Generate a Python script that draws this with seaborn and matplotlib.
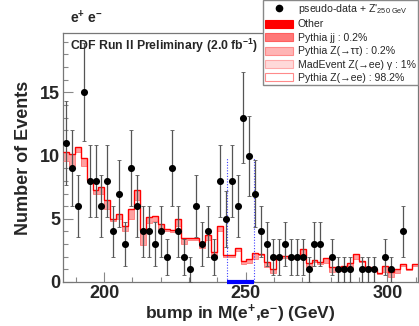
import numpy as np
import matplotlib
matplotlib.use("Agg")
import matplotlib.pyplot as plt
import seaborn as sns
from matplotlib.patches import Patch
from matplotlib.lines import Line2D
from matplotlib.ticker import MultipleLocator

# ---------------- data ----------------
x_range = [185.5, 310.8]
data_counts = [11, 9, 6, 15, 8, 8, 6, 8, 4, 7,
               3, 9, 6, 4, 4, 3, 4, 2, 9, 4,
               2, 1, 6, 3, 4, 2, 8, 5, 8, 6,
               13, 10, 7, 4, 3, 2, 2, 3, 2, 2,
               2, 1, 3, 3, 0, 2, 1, 1, 1, 0,
               1, 1, 1, 0, 2, 1, 0, 4, 0, 0]
mc_total = [10.3, 10.1, 10.7, 9.8, 8.1, 7.25, 7.5, 6.5, 5.0, 5.4,
            4.4, 5.75, 7.3, 4.1, 5.15, 5.2, 4.6, 4.2, 4.1, 5.0,
            3.45, 3.45, 3.5, 3.2, 3.7, 2.35, 4.4, 2.15, 2.1, 2.7,
            1.7, 1.8, 2.3, 2.25, 1.6, 1.0, 2.05, 2.05, 2.0, 2.05,
            2.6, 1.5, 1.75, 1.6, 1.9, 1.2, 1.15, 1.25, 1.5, 2.2,
            1.7, 1.15, 1.05, 0.75, 1.3, 0.8, 1.0, 1.4, 1.05, 1.4]
mc_lower = [9.6, 9.2, 10.3, 9.2, 7.95, 7.0, 7.0, 5.8, 4.8, 5.0,
            4.05, 5.0, 6.5, 2.9, 4.65, 4.8, 4.2, 4.05, 3.95, 4.4,
            3.0, 3.3, 3.3, 2.7, 3.3, 1.9, 4.0, 2.0, 1.95, 2.45,
            1.45, 1.5, 1.8, 2.1, 1.2, 0.7, 1.9, 1.9, 1.8, 1.9,
            2.1, 1.2, 1.6, 1.4, 1.5, 0.8, 0.9, 1.05, 1.1, 1.8,
            1.55, 1.0, 0.95, 0.65, 0.8, 0.4, 0.75, 1.3, 0.95, 1.3]
window_edges = [243.3, 253.0]
window_top = 9.8
y_max = 19.7
x_major = [200, 250, 300]
y_major = [0, 5, 10, 15]

legend_labels = ["pseudo-data + Z$'_{\\mathrm{250\\ GeV}}$", "Other", "Pythia jj : 0.2%",
                 "Pythia Z(\u2192\u03c4\u03c4) : 0.2%", "MadEvent Z(\u2192ee) \u03b3 : 1%",
                 "Pythia Z(\u2192ee) : 98.2%"]
legend_fill = ["#ff0000", "#ff7878", "#ffb4b4", "#ffd9d9", "#ffffff"]
legend_edge = ["#ff0000", "#ff6060", "#ff8a8a", "#ffaaaa", "#ff8a8a"]

# ---------------- style ----------------
sns.set_theme(style="white")
plt.rcParams["font.family"] = ["Liberation Sans", "DejaVu Sans"]
plt.rcParams["mathtext.fontset"] = "custom"
plt.rcParams["mathtext.rm"] = "Liberation Sans"
plt.rcParams["mathtext.it"] = "Liberation Sans:italic"
plt.rcParams["mathtext.bf"] = "Liberation Sans:bold"
plt.rcParams["mathtext.default"] = "regular"

fig = plt.figure(figsize=(4.19, 3.26), dpi=100)
ax = fig.add_axes([63 / 419, 44 / 326, 355 / 419, 249 / 326])

counts = np.array(data_counts, dtype=float)
edges = np.linspace(x_range[0], x_range[1], len(counts) + 1)
centers = 0.5 * (edges[:-1] + edges[1:])

# MC stack band
ax.stairs(mc_total, edges, baseline=mc_lower, fill=True, color="#ffa0a0", zorder=2)
ax.stairs(mc_lower, edges, baseline=None, color="#ff7070", lw=0.6, zorder=3)
ax.stairs(mc_total, edges, baseline=None, color="#ff0000", lw=1.0, zorder=3)

# signal window
ax.vlines(window_edges, 0, window_top, colors="#4040ff", linestyles=(0, (1, 1.5)), lw=0.8, zorder=4)
ax.plot(window_edges, [0, 0], color="#0000ff", lw=3, solid_capstyle="butt", clip_on=False, zorder=6)

# data
mask = counts > 0
ax.errorbar(centers[mask], counts[mask], yerr=np.sqrt(counts[mask]), fmt="none",
            ecolor="#555555", elinewidth=0.9, capsize=1.2, capthick=0.6, zorder=5)
sns.scatterplot(x=centers[mask], y=counts[mask], color="black", s=26, linewidth=0,
                ax=ax, zorder=6)

ax.set_xlim(*x_range)
ax.set_ylim(0, y_max)
ax.set_xticks(x_major)
ax.set_yticks(y_major)
ax.xaxis.set_minor_locator(MultipleLocator(10))
ax.yaxis.set_minor_locator(MultipleLocator(1))
ax.tick_params(which="both", direction="in", color="#888888", top=False, right=False,
               bottom=True, left=True)
ax.tick_params(which="major", length=7, width=0.8, labelsize=13, pad=2)
ax.tick_params(which="minor", length=3.5, width=0.8)
for lab in ax.get_xticklabels() + ax.get_yticklabels():
    lab.set_fontweight("bold")
for sp in ax.spines.values():
    sp.set_color("#777777")
    sp.set_linewidth(0.9)

ax.set_xlabel("bump in M(e$^{\\mathbf{+}}$,e$^{\\mathbf{-}}$) (GeV)", fontsize=12.5,
              fontweight="bold", labelpad=0.5)
ax.set_ylabel("Number of Events", fontsize=13, fontweight="bold", labelpad=6)

fig.text(70 / 419, 1 - 50 / 326, "CDF Run II Preliminary (2.0 fb$^{\\mathbf{-1}}$)",
         fontsize=8.8, fontweight="bold", ha="left", va="baseline")
fig.text(70 / 419, 1 - 23 / 326, "e$^{\\mathbf{+}}$ e$^{\\mathbf{-}}$",
         fontsize=10, fontweight="bold", ha="left", va="baseline")

handles = [Line2D([], [], marker="o", color="black", linestyle="none", markersize=4.5)]
for fc, ec in zip(legend_fill, legend_edge):
    handles.append(Patch(facecolor=fc, edgecolor=ec, linewidth=0.8))
leg = fig.legend(handles, legend_labels, loc="upper left", bbox_to_anchor=(263 / 419, 1.0),
                 fontsize=7.6, frameon=True, fancybox=False, edgecolor="#888888",
                 framealpha=1, borderpad=0.2, labelspacing=0.32, handlelength=2.6,
                 handleheight=0.8, handletextpad=0.5, borderaxespad=0)
leg.get_frame().set_linewidth(1.0)

fig.savefig("out.png", dpi=100)
